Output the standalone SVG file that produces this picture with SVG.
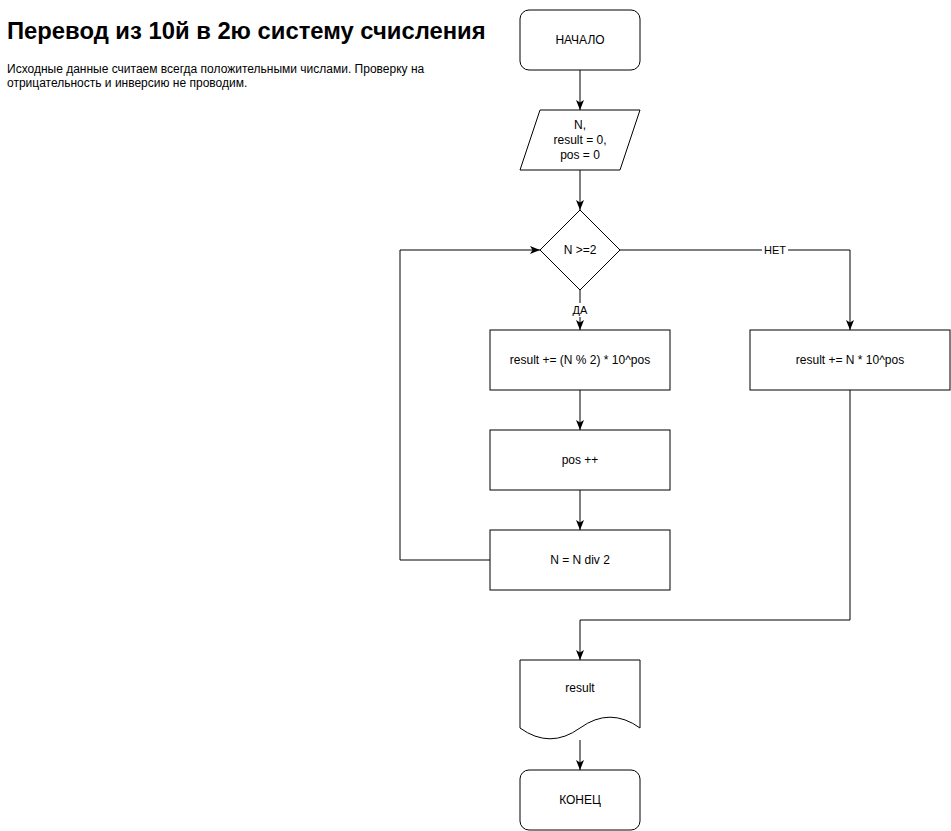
<svg xmlns="http://www.w3.org/2000/svg" width="951" height="831" viewBox="0 0 951 831">
<style>
.s{fill:#fff;stroke:#000;stroke-width:1}
.t{font-family:"Liberation Sans",Arial,sans-serif;font-size:12px;fill:#000;text-anchor:middle}
.c{fill:none;stroke:#000;stroke-width:1}
.lbl{font-family:"Liberation Sans",Arial,sans-serif;font-size:11px;fill:#000;text-anchor:middle}
</style>
<defs>
<marker id="a" markerUnits="userSpaceOnUse" viewBox="0 0 10 8" refX="10" refY="4" markerWidth="10" markerHeight="8" orient="auto">
<path d="M0,0 L10,4 L0,8 L2.5,4 z" fill="#000"/>
</marker>
</defs>
<rect width="951" height="831" fill="#fff"/>
<g id="title">
<text x="7" y="39" font-family="'Liberation Sans',Arial,sans-serif" font-size="23.8" font-weight="bold" fill="#000">Перевод из 10й в 2ю систему счисления</text>
<text font-family="'Liberation Sans',Arial,sans-serif" font-size="12" fill="#000"><tspan x="7" y="73">Исходные данные считаем всегда положительными числами. Проверку на</tspan><tspan x="7" y="87">отрицательность и инверсию не проводим.</tspan></text>
</g>
<g id="connectors">
<path class="c" d="M580,70 V110" marker-end="url(#a)"/>
<path class="c" d="M580,170 V210" marker-end="url(#a)"/>
<path class="c" d="M580,290 V330" marker-end="url(#a)"/>
<path class="c" d="M580,390 V430" marker-end="url(#a)"/>
<path class="c" d="M580,490 V530" marker-end="url(#a)"/>
<path class="c" d="M490,560 H400 V250 H540" marker-end="url(#a)"/>
<path class="c" d="M620,250 H850 V330" marker-end="url(#a)"/>
<path class="c" d="M850,390 V620 H580 V660" marker-end="url(#a)"/>
<path class="c" d="M580,740 V770" marker-end="url(#a)"/>
<rect x="569" y="303" width="22" height="14" fill="#fff"/>
<text class="lbl" x="580" y="314">ДА</text>
<rect x="762" y="243" width="26" height="14" fill="#fff"/>
<text class="lbl" x="775" y="254">НЕТ</text>
</g>
<g id="start">
<rect class="s" x="520" y="10" width="120" height="60" rx="9" ry="9"/>
<text class="t" x="580" y="44">НАЧАЛО</text>
</g>
<g id="input">
<path class="s" d="M540,110 H640 L620,170 H520 Z"/>
<text class="t"><tspan x="580" y="129">N,</tspan><tspan x="580" y="144">result = 0,</tspan><tspan x="580" y="159">pos = 0</tspan></text>
</g>
<g id="cond">
<path class="s" d="M580,210 L620,250 L580,290 L540,250 Z"/>
<text class="t" x="580" y="254">N &gt;=2</text>
</g>
<g id="step1">
<rect class="s" x="490" y="330" width="180" height="60"/>
<text class="t" x="580" y="364">result += (N % 2) * 10^pos</text>
</g>
<g id="step2">
<rect class="s" x="490" y="430" width="180" height="60"/>
<text class="t" x="580" y="464">pos ++</text>
</g>
<g id="step3">
<rect class="s" x="490" y="530" width="180" height="60"/>
<text class="t" x="580" y="564">N = N div 2</text>
</g>
<g id="final">
<rect class="s" x="750" y="330" width="200" height="60"/>
<text class="t" x="850" y="364">result += N * 10^pos</text>
</g>
<g id="output">
<path class="s" d="M520,660 H640 V728 Q610,706.4 580,728 Q550,749.6 520,728 Z"/>
<text class="t" x="580" y="692">result</text>
</g>
<g id="end">
<rect class="s" x="520" y="770" width="120" height="60" rx="9" ry="9"/>
<text class="t" x="580" y="804">КОНЕЦ</text>
</g>
</svg>
